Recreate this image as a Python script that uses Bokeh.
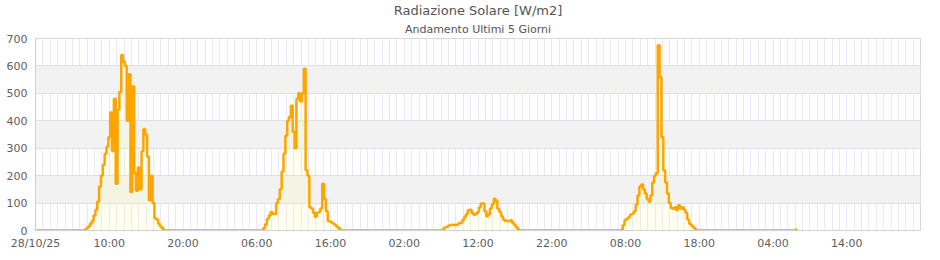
import numpy as np
from bokeh.plotting import figure
from bokeh.models import Title, FixedTicker, ColumnDataSource, Range1d
from bokeh.embed import file_html
from bokeh.resources import INLINE

# ---- data (hours since 28/10/25 00:00, 15-minute readings, W/m2) ----
step_h = 0.25
series_end_h = 103.25

day1_start_h = 6.75
day1_values = [3, 8, 15, 25, 35, 55, 75, 105, 160, 200, 240, 280, 305, 340, 430, 290,
               480, 170, 440, 505, 640, 615, 600, 400, 570, 140, 525, 210, 145, 230,
               150, 290, 370, 350, 270, 110, 200, 100, 45, 40, 25, 15, 8, 0]

day2_start_h = 31.0
day2_values = [8, 22, 42, 55, 67, 60, 60, 100, 115, 150, 215, 280, 345, 400, 415, 455,
               360, 300, 480, 500, 470, 500, 590, 220, 200, 85, 80, 65, 50, 65, 67, 80,
               170, 115, 70, 35, 33, 28, 24, 18, 12, 6, 0]

day3_start_h = 55.25
day3_values = [3, 10, 13, 16, 20, 21, 20, 20, 22, 27, 27, 38, 50, 60, 75, 76, 65, 57,
               60, 67, 85, 98, 98, 70, 52, 58, 80, 96, 116, 108, 79, 68, 52, 40, 35, 36,
               34, 37, 27, 20, 12, 4, 0]

day4_start_h = 79.5
day4_values = [3, 20, 38, 43, 48, 58, 61, 70, 95, 128, 160, 168, 150, 135, 115, 105,
               128, 175, 200, 210, 675, 560, 340, 220, 175, 135, 100, 82, 79, 85, 75,
               92, 80, 85, 76, 65, 40, 25, 18, 12, 5, 0]

day5_start_h = 103.25
day5_values = [5]

tick_hours = [0, 10, 20, 30, 40, 50, 60, 70, 80, 90, 100, 110]
tick_labels = ["28/10/25", "10:00", "20:00", "06:00", "16:00", "02:00",
               "12:00", "22:00", "08:00", "18:00", "04:00", "14:00"]
y_ticks = [0, 100, 200, 300, 400, 500, 600, 700]

# ---- assemble the series ----
hours = np.arange(0, series_end_h + 1e-9, step_h)
vals = np.zeros_like(hours)
for start, arr in [(day1_start_h, day1_values), (day2_start_h, day2_values),
                   (day3_start_h, day3_values), (day4_start_h, day4_values),
                   (day5_start_h, day5_values)]:
    i0 = int(round(start / step_h))
    vals[i0:i0 + len(arr)] = arr

src = ColumnDataSource(dict(h=hours, v=vals))

FONT = "DejaVu Sans"

p = figure(width=940, height=260, output_backend="svg", toolbar_location=None,
           x_range=Range1d(0, 120), y_range=Range1d(0, 700),
           title="Radiazione Solare [W/m2]",
           min_border_left=35, min_border_right=20, min_border_top=0,
           min_border_bottom=30)

p.title.align = "center"
p.title.text_font = FONT
p.title.text_font_size = "13px"
p.title.text_font_style = "normal"
p.title.text_color = "#555555"
p.title.standoff = 0

sub_title = Title(text="Andamento Ultimi 5 Giorni", align="center",
                  text_font=FONT, text_font_size="11px", text_font_style="normal",
                  text_color="#555555", standoff=6)
p.add_layout(sub_title, "above")

p.background_fill_color = "white"
p.border_fill_color = "white"
p.outline_line_color = "#d8d8d8"

# grids
p.xgrid.ticker = FixedTicker(ticks=list(range(0, 121)))
p.xgrid.grid_line_color = "#e8e8f8"
p.xgrid.grid_line_width = 1
p.ygrid.ticker = FixedTicker(ticks=y_ticks)
p.ygrid.grid_line_color = "#e0e0e0"
p.ygrid.band_fill_color = "#f2f2f2"
p.ygrid.band_fill_alpha = 1.0

# axes
p.xaxis.ticker = FixedTicker(ticks=tick_hours)
p.xaxis.major_label_overrides = {h: lab for h, lab in zip(tick_hours, tick_labels)}
p.yaxis.ticker = FixedTicker(ticks=y_ticks)
for ax in (p.xaxis, p.yaxis):
    ax.major_tick_line_color = None
    ax.minor_tick_line_color = None
    ax.major_tick_out = 0
    ax.major_tick_in = 0
    ax.minor_tick_out = 0
    ax.minor_tick_in = 0
    ax.axis_line_color = "#d0d0d0"
    ax.major_label_text_font = FONT
    ax.major_label_text_font_size = "11px"
    ax.major_label_text_color = "#606060"
p.xaxis.major_label_standoff = 6
p.yaxis.major_label_standoff = 8

p.varea_step(x="h", y1=0, y2="v", step_mode="center", source=src,
             fill_color="#ffff99", fill_alpha=0.15)
p.step(x="h", y="v", mode="center", source=src, line_color="#ffa500", line_width=2.5)

open("out.html", "w").write(file_html(p, INLINE))
